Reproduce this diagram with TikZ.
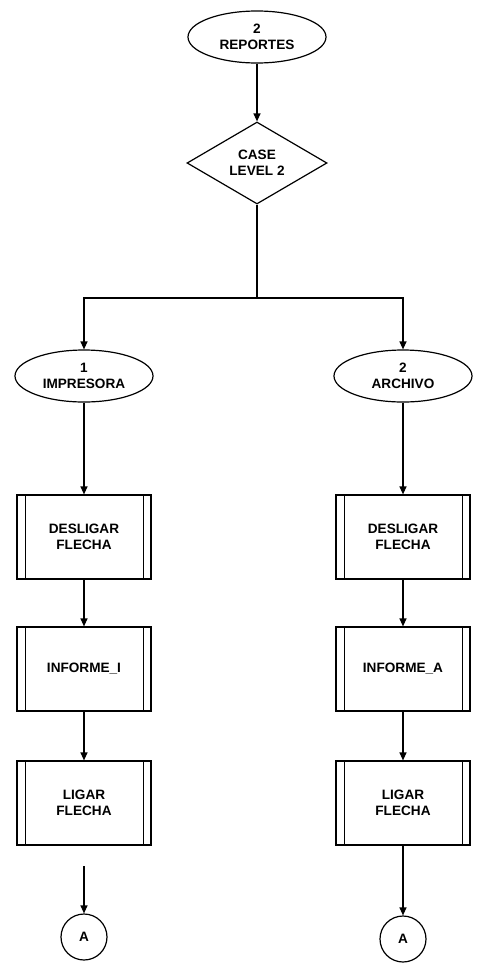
\documentclass[tikz,border=0pt]{standalone}
\usepackage{fontspec}
\setmainfont{Liberation Sans}
\usetikzlibrary{arrows.meta,positioning,shapes.geometric}

\begin{document}
\begin{tikzpicture}[
      x=0.5pt, y=-0.5pt,
      every node/.style={font=\fontsize{6.8}{8}\selectfont\bfseries, align=center},
      term/.style={draw, ellipse, line width=0.6pt, inner sep=0pt,
                   minimum width=69pt, minimum height=26pt},
      decis/.style={draw, diamond, line width=0.6pt, inner sep=0pt,
                    minimum width=70pt, minimum height=41pt},
      proc/.style={draw, rectangle, line width=0.6pt, inner sep=0pt,
                   minimum width=67pt, minimum height=42pt,
                   path picture={
                     \draw[line width=0.5pt]
                       ([xshift=4pt]path picture bounding box.north west) --
                       ([xshift=4pt]path picture bounding box.south west);
                     \draw[line width=0.5pt]
                       ([xshift=-4pt]path picture bounding box.north east) --
                       ([xshift=-4pt]path picture bounding box.south east);}},
      conn/.style={draw, circle, line width=0.6pt, inner sep=0pt,
                   minimum size=23pt},
      arr/.style={-{Triangle[length=4pt, width=3.5pt]}, line width=0.6pt}
  ]
    \useasboundingbox (0,0) rectangle (477,964);

    % --- Top of the level ---
    \node[term] (rep) at (257,37) {2\\REPORTES};
    \node[decis] (case) at (257,163) {CASE\\LEVEL 2};
    \draw[arr] (rep) -- (case);
    \coordinate (jn) at (257,298);

    % --- Branch 1: printer ---
    \node[term] (impr) at (84,376) {1\\IMPRESORA};
    \node[proc] (desl1) at (84,537) {DESLIGAR\\FLECHA};
    \node[proc] (inf1) at (84,669) {INFORME\_I};
    \node[proc] (lig1) at (84,803) {LIGAR\\FLECHA};
    \node[conn] (conA1) at (84,937) {A};
    \coordinate (c1) at (84,866);

    % --- Branch 2: file ---
    \node[term] (arch) at (403,376) {2\\ARCHIVO};
    \node[proc] (desl2) at (403,537) {DESLIGAR\\FLECHA};
    \node[proc] (inf2) at (403,669) {INFORME\_A};
    \node[proc] (lig2) at (403,803) {LIGAR\\FLECHA};
    \node[conn] (conA2) at (403,939) {A};

    % connectors
    \draw[line width=0.6pt] (case.south) -- (jn);
    \draw[arr] (jn) -| (impr.north);
    \draw[arr] (jn) -| (arch.north);

    \draw[arr] (impr) -- (desl1);
    \draw[arr] (desl1) -- (inf1);
    \draw[arr] (inf1) -- (lig1);
    \draw[arr] (c1) -- (conA1);

    \draw[arr] (arch) -- (desl2);
    \draw[arr] (desl2) -- (inf2);
    \draw[arr] (inf2) -- (lig2);
    \draw[arr] (lig2) -- (conA2);

  \end{tikzpicture}
\end{document}
